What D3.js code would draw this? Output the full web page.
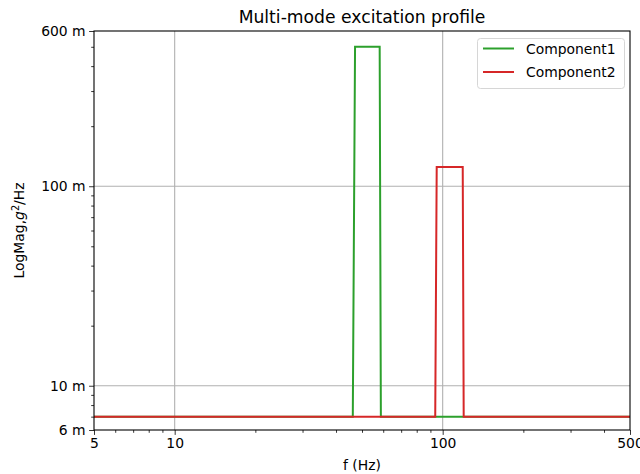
<!DOCTYPE html>
<html><head><meta charset="utf-8">
<script src="https://cdn.jsdelivr.net/npm/d3@7"></script>
<style>body{margin:0;background:#fff}svg{font-family:"DejaVu Sans",sans-serif}</style>
</head><body><svg id="c" width="640" height="474"></svg>
<script>
const seriesNames = ["Component1", "Component2"];
const seriesColors = ["#2ca02c", "#d62728"];
const comp1Freq = [5, 46.2, 47.1, 58.2, 58.8, 500];
const comp1Mag  = [0.007, 0.007, 0.5, 0.5, 0.007, 0.007];
const comp2Freq = [5, 93.8, 95, 118.8, 119.8, 500];
const comp2Mag  = [0.007, 0.007, 0.125, 0.125, 0.007, 0.007];
const xTickVals = [5, 10, 100, 500];
const xTickLabels = ["5", "10", "100", "500"];
const yTickVals = [0.006, 0.01, 0.1, 0.6];
const yTickLabels = ["6 m", "10 m", "100 m", "600 m"];

const svg = d3.select("#c");
const L = 94, R = 630, T = 31, B = 430;
const x = d3.scaleLog().domain([5, 500]).range([L, R]);
const y = d3.scaleLog().domain([0.006, 0.6]).range([B, T]);

// grid
const g = svg.append("g");
[10, 100].forEach(v => g.append("line").attr("x1", x(v)).attr("x2", x(v)).attr("y1", T).attr("y2", B)
  .attr("stroke", "#b0b0b0").attr("stroke-width", 1.1));
[0.01, 0.1].forEach(v => g.append("line").attr("x1", L).attr("x2", R).attr("y1", y(v)).attr("y2", y(v))
  .attr("stroke", "#b0b0b0").attr("stroke-width", 1.1));

// lines
const line = d3.line().x(d => x(d[0])).y(d => y(d[1]));
const data = [d3.zip(comp1Freq, comp1Mag), d3.zip(comp2Freq, comp2Mag)];
data.forEach((d, i) => svg.append("path").datum(d).attr("d", line).attr("fill", "none")
  .attr("stroke", seriesColors[i]).attr("stroke-width", 2).attr("stroke-linejoin", "miter"));

// axes
const xMinor = [6,7,8,9,20,30,40,50,60,70,80,90,200,300,400];
const yMinor = [0.007,0.008,0.009,0.02,0.03,0.04,0.05,0.06,0.07,0.08,0.09,0.2,0.3,0.4,0.5];
const xAx = svg.append("g").attr("transform", `translate(0,${B})`)
  .call(d3.axisBottom(x).tickValues(xTickVals).tickFormat((d, i) => xTickLabels[i]).tickSize(4.9).tickPadding(3.5));
const xAxMin = svg.append("g").attr("transform", `translate(0,${B})`)
  .call(d3.axisBottom(x).tickValues(xMinor).tickFormat("").tickSize(2.8));
const yAx = svg.append("g").attr("transform", `translate(${L},0)`)
  .call(d3.axisLeft(y).tickValues(yTickVals).tickFormat((d, i) => yTickLabels[i]).tickSize(4.9).tickPadding(3.5));
const yAxMin = svg.append("g").attr("transform", `translate(${L},0)`)
  .call(d3.axisLeft(y).tickValues(yMinor).tickFormat("").tickSize(2.8));
[xAx, xAxMin, yAx, yAxMin].forEach(a => {
  a.select(".domain").remove();
  a.selectAll("line").attr("stroke", "#000").attr("stroke-width", 0.8);
  a.selectAll("text").attr("font-size", 13.9).attr("fill", "#000").attr("font-family", "DejaVu Sans");
});

// frame
svg.append("rect").attr("x", L).attr("y", T).attr("width", R - L).attr("height", B - T)
  .attr("fill", "none").attr("stroke", "#000").attr("stroke-width", 1.1);

// title & labels
svg.append("text").attr("x", (L + R) / 2).attr("y", 23).attr("text-anchor", "middle")
  .attr("font-size", 17.2).text("Multi-mode excitation profile");
svg.append("text").attr("x", (L + R) / 2).attr("y", 470).attr("text-anchor", "middle")
  .attr("font-size", 13.9).text("f (Hz)");
const yl = svg.append("text").attr("transform", `translate(24,${(T + B) / 2}) rotate(-90)`)
  .attr("text-anchor", "middle").attr("font-size", 13.9);
yl.append("tspan").text("LogMag,");
yl.append("tspan").attr("font-style", "italic").text("g");
yl.append("tspan").attr("font-size", 9.7).attr("dy", -5).text("2");
yl.append("tspan").attr("dy", 5).text("/Hz");

// legend
const lg = svg.append("g");
lg.append("rect").attr("x", 477.5).attr("y", 38.5).attr("width", 147).attr("height", 50).attr("rx", 3)
  .attr("fill", "#fff").attr("fill-opacity", 0.8).attr("stroke", "#d6d6d6").attr("stroke-width", 1);
seriesNames.forEach((n, i) => {
  const yy = 48.5 + i * 23.5;
  lg.append("line").attr("x1", 483).attr("x2", 514).attr("y1", yy).attr("y2", yy)
    .attr("stroke", seriesColors[i]).attr("stroke-width", 2);
  lg.append("text").attr("x", 526).attr("y", yy + 5).attr("font-size", 13.9).text(n);
});
</script></body></html>
